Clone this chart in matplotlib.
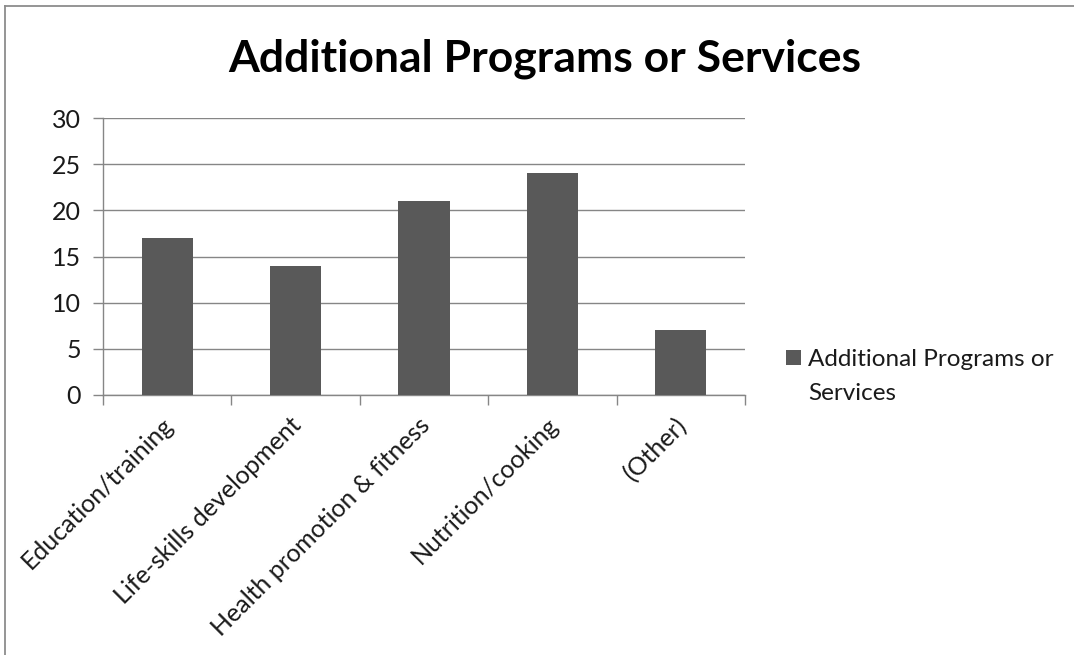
import matplotlib
matplotlib.use("Agg")
import matplotlib.pyplot as plt
import matplotlib.transforms as mtransforms
from matplotlib.lines import Line2D
import numpy as np

categories = ["Education/training", "Life-skills development", "Health promotion & fitness",
              "Nutrition/cooking", "(Other)"]
values = [17, 14, 21, 24, 7]
yticks = [0, 5, 10, 15, 20, 25, 30]
title = "Additional Programs or Services"
series_line1 = "Additional Programs or"
series_line2 = "Services"

plt.rcParams['font.family'] = ['Lato', 'DejaVu Sans']

W, H = 1074, 655
fig = plt.figure(figsize=(W / 100, H / 100), dpi=100)
ax = fig.add_axes([103 / W, 1 - 395 / H, (745 - 103) / W, (395 - 118) / H])

grid_c = "#868686"
bar_c = "#595959"
txt_c = "#1a1a1a"
x = np.arange(len(categories))
bars = ax.bar(x, values, width=0.4, color=bar_c, zorder=3)

ax.set_xlim(-0.5, len(categories) - 0.5)
ax.set_ylim(0, 30)
ax.set_yticks(yticks)
ax.set_yticklabels([str(t) for t in yticks], fontsize=18)
ax.yaxis.grid(True, color=grid_c, linewidth=1.0, zorder=0)
ax.tick_params(axis='y', length=7, color=grid_c, width=1, pad=9, labelcolor=txt_c)

ax.set_xticks(x)
ax.set_xticklabels(categories, rotation=45, ha='right', rotation_mode='anchor',
                   fontsize=18, color=txt_c)
ax.tick_params(axis='x', which='major', length=0, pad=6)
ax.set_xticks(np.arange(-0.5, len(categories)), minor=True)
ax.tick_params(axis='x', which='minor', length=7, color=grid_c, width=1)
offset = mtransforms.ScaledTranslation(-6 / 100, -10 / 100, fig.dpi_scale_trans)
for lbl in ax.get_xticklabels():
    lbl.set_transform(lbl.get_transform() + offset)

for s in ['top', 'right']:
    ax.spines[s].set_visible(False)
for s in ['left', 'bottom']:
    ax.spines[s].set_color(grid_c)
    ax.spines[s].set_linewidth(1.0)

fig.text(545 / W, 1 - 59 / H, title, ha='center', va='center', fontsize=32,
         fontweight='bold', color="#000000")

leg = fig.legend(handles=[bars], labels=[series_line1], loc='upper left',
                 bbox_to_anchor=(786 / W, 1 - 349 / H), frameon=False, fontsize=17.5,
                 borderpad=0, borderaxespad=0,
                 handlelength=0.6, handleheight=0.6, handletextpad=0.3)
for t in leg.get_texts():
    t.set_color(txt_c)
fig.text(808 / W, 1 - 400 / H, series_line2, ha='left', va='baseline',
         fontsize=17.5, color=txt_c)

fig.add_artist(Line2D([5 / W, 5 / W], [0, 1 - 6 / H], color="#8c8c8c", linewidth=1.3))
fig.add_artist(Line2D([5 / W, 1], [1 - 6 / H, 1 - 6 / H], color="#8c8c8c", linewidth=1.3))

fig.savefig("out.png", dpi=100)
